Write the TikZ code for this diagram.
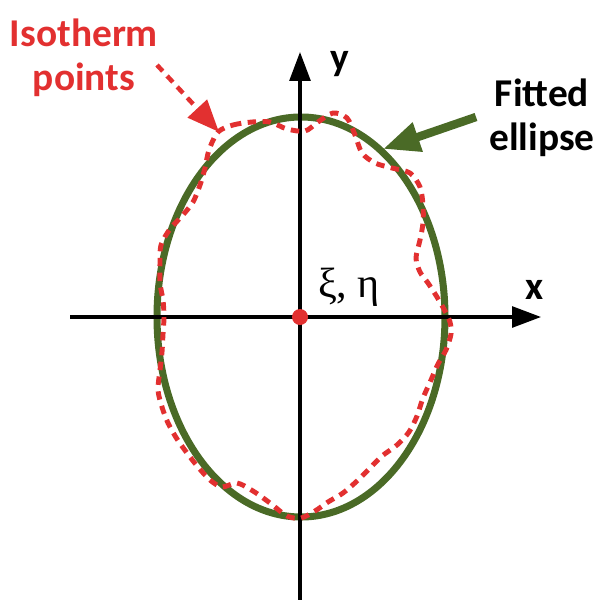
\documentclass[tikz,border=0pt]{standalone}
\usepackage{fontspec}
\setmainfont{Carlito}
\newfontfamily\greekfont{Liberation Serif}
\usetikzlibrary{%
	arrows.meta,%
	positioning,%
}
\definecolor{cgreen}{RGB}{74, 106, 38}
\definecolor{cred}{RGB}{226, 48, 48}
\tikzset{
	>=Triangle,%
	nodes={align=center},%
	axis/.style={%
			draw=black,%
			line width=1.1pt,%
			-{Triangle[length=0.36cm, width=0.26cm]}},%
	fitted/.style={%
			draw=cgreen,%
			line width=2.5pt},%
	isoline/.style={%
			draw=cred,%
			line width=1.75pt,%
			dash pattern=on 3pt off 2.3pt},%
	fitarrow/.style={%
			draw=cgreen,%
			line width=3pt,%
			-{Triangle[length=0.46cm, width=0.36cm]}},%
	isoarrow/.style={%
			draw=cred,%
			line width=1.6pt,%
			dash pattern=on 3pt off 2.3pt,%
			-{Triangle[length=0.4cm, width=0.32cm]}},%
	labelnode/.style={%
			font={\fontsize{14}{15.5}\selectfont\bfseries},%
			inner sep=0},%
	centerdot/.style={%
			circle,%
			fill=cred,%
			inner sep=0,%
			minimum size=0.2cm},%
}

\begin{document}
\begin{tikzpicture}[x=0.0125cm, y=-0.0125cm]%
	\useasboundingbox (0,0) rectangle (599,600);

	% axes
	\coordinate (xs) at (70,317);
	\coordinate (xe) at (541,317);
	\coordinate (ys) at (300,600);
	\coordinate (ye) at (300,52);

	% fitted ellipse
	\draw[fitted] (301,317) ellipse [x radius=144, y radius=200];
	\draw[axis] (xs) -- (xe);
	\draw[axis] (ys) -- (ye);
	\node[centerdot] (c) at (300,317) {};

	% isotherm points
	\draw[isoline] plot[smooth cycle, tension=0.5] coordinates {%
			(218,132) (233,125) (252,122) (270,122) (287,129) (305,131) (318,122) (333,113)
			(347,118) (355,135) (362,153) (375,163) (392,168) (410,173) (420,187) (423,205)
			(423,223) (420,240) (416,258) (420,272) (428,283) (437,297) (445,311) (450,322)
			(451,334) (446,350) (438,364) (431,380) (423,398) (417,416) (409,432) (397,445)
			(382,456) (370,468) (357,481) (343,493) (328,502) (315,511) (301,518) (287,516)
			(270,503) (253,491) (237,483) (222,487) (210,480) (198,467) (187,453) (177,439)
			(168,423) (162,407) (158,390) (160,370) (162,352) (163,334) (164,317) (163,300)
			(160,283) (160,263) (161,245) (170,229) (182,216) (193,202) (200,185) (205,168)
			(209,150)};

	% labels
	\node[labelnode, text=cred] (iso) at (84,58) {Isotherm\\points};
	\node[labelnode] (fit) at (542,118) {Fitted\\ellipse};
	\node[labelnode] (ylab) at (340,64) {y};
	\node[labelnode] (xlab) at (535,290) {x};
	\node[inner sep=0, font={\fontsize{15}{17}\selectfont\greekfont}] (cent) at (349,287) {ξ, η};

	\coordinate (isotail) at (157,65);
	\coordinate (isotip) at (219,132);
	\coordinate (fittail) at (476,117);
	\coordinate (fittip) at (383,149);
	\draw[isoarrow] (isotail) -- (isotip);
	\draw[fitarrow] (fittail) -- (fittip);
\end{tikzpicture}
\end{document}
